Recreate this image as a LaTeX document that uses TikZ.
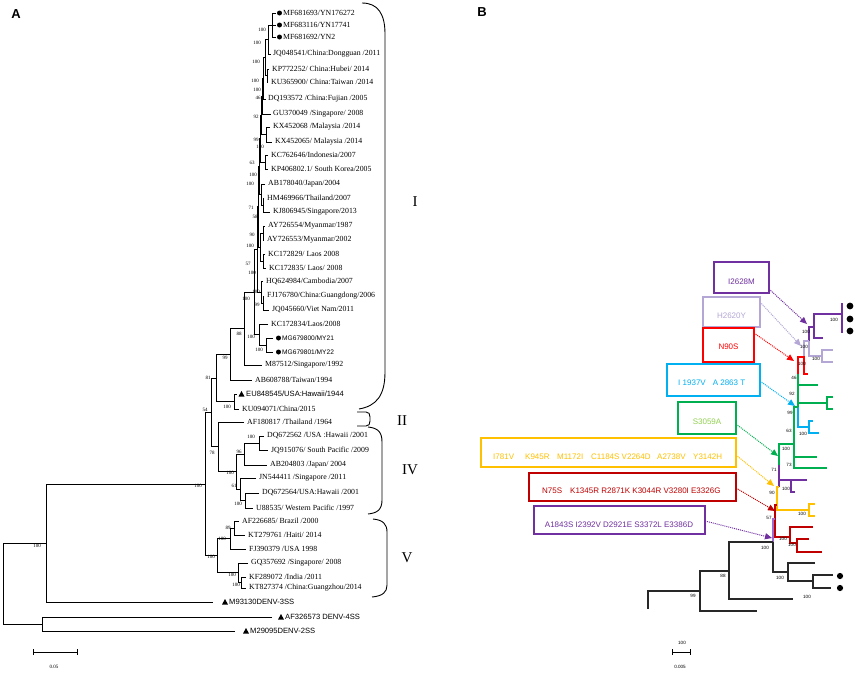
\documentclass[tikz,border=0pt]{standalone}
\usepackage{fontspec}
\setmainfont{Liberation Serif}
\setsansfont{Liberation Sans}
\usetikzlibrary{arrows.meta}
\definecolor{cP}{RGB}{112,48,160}
\definecolor{cL}{RGB}{180,167,214}
\definecolor{cR}{RGB}{255,0,0}
\definecolor{cB}{RGB}{0,176,240}
\definecolor{cG}{RGB}{0,176,80}
\definecolor{cGt}{RGB}{146,208,80}
\definecolor{cY}{RGB}{255,192,0}
\definecolor{cDR}{RGB}{192,0,0}
\definecolor{cM}{RGB}{155,110,210}
\definecolor{cK}{RGB}{40,40,40}
\newcounter{bsc}
\newcommand{\trnode}[5]{\draw[br] (#2,#3) -- (#1,#3) -- (#1,#5) -- (#4,#5);}
\newcommand{\leaflab}[4]{\node[lf,anchor=west] (#1) at (#2,#3) {#4};}
\newcommand{\leafsans}[4]{\node[lfs,anchor=west] (#1) at (#2,#3) {#4};}
\newcommand{\bsA}[3]{\stepcounter{bsc}\node[bsf] (bs\thebsc) at (#1,#2) {#3};}
\newcommand{\bsB}[3]{\stepcounter{bsc}\node[bsr] (bs\thebsc) at (#1,#2) {#3};}
\newcommand{\tridot}[2]{\fill (#1-3,#2+2.5) -- (#1+3,#2+2.5) -- (#1,#2-3) -- cycle;}
\tikzset{
 br/.style={line width=0.7pt, black},
 lf/.style={font=\fontsize{7.8}{9}\selectfont, inner sep=0pt},
 lfs/.style={font=\sffamily\fontsize{7.6}{9}\selectfont, inner sep=0pt},
 lfm/.style={font=\sffamily\fontsize{6.6}{8}\selectfont, inner sep=0pt},
 bsf/.style={font=\fontsize{5}{5}\selectfont, inner sep=0pt},
 bsr/.style={font=\sffamily\fontsize{4.6}{5}\selectfont, inner sep=0pt},
 mbox/.style={draw, line width=1.2pt, inner sep=0pt},
 mtxt/.style={font=\sffamily\fontsize{8}{9}\selectfont, inner sep=0pt},
 tr/.style={line width=1.2pt},
 arr/.style={densely dotted, line width=1pt, -{Triangle[length=7pt,width=6pt]}},
 roman/.style={font=\fontsize{15}{15}\selectfont, inner sep=0pt},
 panel/.style={font=\sffamily\bfseries\fontsize{13}{13}\selectfont, inner sep=0pt},
 brace/.style={line width=0.9pt, black},
}
\begin{document}
\begin{tikzpicture}[x=1pt,y=-1pt]
\fill[white] (0,0) rectangle (856,672);
\useasboundingbox (0,0) rectangle (856,672);
\node[panel] (pA) at (16,14) {A};
\node[panel] (pB) at (482,12) {B};
% ---------------- left tree ----------------
\draw[br] (276,13) -- (272,13) -- (272,37) -- (276,37);
\draw[br] (272,25) -- (276,25);
\trnode{268}{272}{25}{271}{54}
\trnode{267}{269}{69}{268}{82}
\trnode{265}{268}{39.5}{267}{75.5}
\trnode{263}{265}{57.5}{266}{99}
\trnode{262}{263}{78.25}{271}{114}
\trnode{266}{270}{127}{272}{142}
\trnode{261}{262}{96.1}{266}{134.5}
\trnode{265}{268}{155}{268}{169}
\trnode{260}{261}{115.3}{265}{162}
\trnode{263}{264}{198}{270}{212}
\trnode{261}{265}{184}{263}{205}
\trnode{259}{260}{138.7}{261}{194.5}
\trnode{263}{265}{226}{264}{240}
\trnode{263}{265}{254}{266}{268}
\trnode{260}{263}{233}{263}{261}
\trnode{258}{259}{166.6}{260}{247}
\trnode{263}{264}{296}{269}{310}
\trnode{261}{263}{281}{263}{303}
\trnode{257}{258}{206.8}{261}{292}
\trnode{266}{273}{338}{273}{352}
\trnode{259}{268}{324}{266}{345}
\trnode{254}{257}{249.4}{259}{334.5}
\trnode{244}{254}{292}{262}{365}
\trnode{230}{244}{328.5}{252}{380}
\trnode{234}{237}{394}{239}{409}
\trnode{216}{230}{354.25}{234}{401.5}
\trnode{259}{264}{436}{268}{450}
\trnode{244}{259}{443}{267}{465}
\trnode{245}{259}{493}{253}{508}
\trnode{240}{256}{478}{245}{500.5}
\trnode{236}{244}{454}{240}{489.25}
\trnode{218}{244}{422}{236}{471.6}
\trnode{211}{216}{377.9}{218}{446.8}
\trnode{234}{239}{521}{245}{535}
\trnode{230}{234}{528}{246}{549}
\trnode{241}{246}{577}{246}{588}
\trnode{238}{248}{563}{241}{582.5}
\trnode{217}{230}{538.5}{238}{572.75}
\trnode{205}{211}{412.3}{217}{555.6}
\trnode{46}{205}{484}{213}{602}
\trnode{42}{272}{617}{235}{631}
\trnode{3}{46}{543}{42}{624}
% markers
\fill (279.5,13) circle[radius=2.5pt];
\fill (279.5,25) circle[radius=2.5pt];
\fill (279.5,37) circle[radius=2.5pt];
\fill (278.5,338) circle[radius=2.5pt];
\fill (278.5,352) circle[radius=2.5pt];
\tridot{241.5}{394}
\tridot{225}{602}
\tridot{281}{617}
\tridot{246}{631}
% leaf labels
\leaflab{l1}{283}{13}{MF681693/YN176272}
\leaflab{l2}{283}{25}{MF683116/YN17741}
\leaflab{l3}{283}{37}{MF681692/YN2}
\leaflab{l4}{273}{54}{JQ048541/China:Dongguan /2011}
\leaflab{l5}{272}{69}{KP772252/ China:Hubei/ 2014}
\leaflab{l6}{271}{82}{KU365900/ China:Taiwan /2014}
\leaflab{l7}{268}{99}{DQ193572 /China:Fujian /2005}
\leaflab{l8}{273}{114}{GU370049 /Singapore/ 2008}
\leaflab{l9}{273}{127}{KX452068 /Malaysia /2014}
\leaflab{l10}{275}{142}{KX452065/ Malaysia /2014}
\leaflab{l11}{271}{155}{KC762646/Indonesia/2007}
\leaflab{l12}{271}{169}{KP406802.1/ South Korea/2005}
\leaflab{l13}{268}{184}{AB178040/Japan/2004}
\leaflab{l14}{267}{198}{HM469966/Thailand/2007}
\leaflab{l15}{273}{212}{KJ806945/Singapore/2013}
\leaflab{l16}{268}{226}{AY726554/Myanmar/1987}
\leaflab{l17}{267}{240}{AY726553/Myanmar/2002}
\leaflab{l18}{268}{254}{KC172829/ Laos 2008}
\leaflab{l19}{269}{268}{KC172835/ Laos/ 2008}
\leaflab{l20}{266}{281}{HQ624984/Cambodia/2007}
\leaflab{l21}{267}{296}{FJ176780/China:Guangdong/2006}
\leaflab{l22}{272}{310}{JQ045660/Viet Nam/2011}
\leaflab{l23}{271}{324}{KC172834/Laos/2008}
\node[lfm,anchor=west] (l24) at (282,338) {MG679800/MY21};
\node[lfm,anchor=west] (l25) at (282,352) {MG679801/MY22};
\leaflab{l26}{265}{365}{M87512/Singapore/1992}
\leaflab{l27}{255}{380}{AB608788/Taiwan/1994}
\leafsans{l28}{246}{394}{EU848545/USA:Hawaii/1944}
\leaflab{l29}{242}{409}{KU094071/China/2015}
\leaflab{l30}{247}{422}{AF180817 /Thailand /1964}
\leaflab{l31}{267}{436}{DQ672562 /USA :Hawaii /2001}
\leaflab{l32}{271}{450}{JQ915076/ South Pacific /2009}
\leaflab{l33}{270}{465}{AB204803 /Japan/ 2004}
\leaflab{l34}{259}{478}{JN544411 /Singapore /2011}
\leaflab{l35}{262}{493}{DQ672564/USA:Hawaii /2001}
\leaflab{l36}{256}{508}{U88535/ Western Pacific /1997}
\leaflab{l37}{242}{521}{AF226685/ Brazil /2000}
\leaflab{l38}{248}{535}{KT279761 /Haiti/ 2014}
\leaflab{l39}{249}{549}{FJ390379 /USA 1998}
\leaflab{l40}{251}{563}{GQ357692 /Singapore/ 2008}
\leaflab{l41}{249}{577}{KF289072 /India /2011}
\leaflab{l42}{249}{588}{KT827374 /China:Guangzhou/2014}
\leafsans{l43}{229}{602}{M93130DENV-3SS}
\leafsans{l44}{285}{617}{AF326573 DENV-4SS}
\leafsans{l45}{250}{631}{M29095DENV-2SS}
% bootstrap labels left
\bsA{262}{30}{100}
\bsA{257}{43}{100}
\bsA{256}{62}{100}
\bsA{255}{81}{100}
\bsA{257}{90}{100}
\bsA{258}{98}{46}
\bsA{256}{117}{92}
\bsA{256}{140}{99}
\bsA{260}{147}{100}
\bsA{252}{163}{63}
\bsA{253}{175}{100}
\bsA{250}{184}{100}
\bsA{251}{208}{71}
\bsA{255}{217}{58}
\bsA{252}{235}{90}
\bsA{250}{246}{100}
\bsA{248}{264}{57}
\bsA{252}{273}{100}
\bsA{256}{292}{100}
\bsA{246}{299}{100}
\bsA{257}{305}{99}
\bsA{251}{337}{100}
\bsA{259}{350}{100}
\bsA{239}{334}{88}
\bsA{225}{358}{99}
\bsA{208}{378}{81}
\bsA{227}{407}{100}
\bsA{205}{410}{54}
\bsA{251}{437}{100}
\bsA{239}{452}{96}
\bsA{212}{453}{78}
\bsA{230}{473}{100}
\bsA{234}{486}{61}
\bsA{198}{486}{100}
\bsA{238}{504}{100}
\bsA{228}{528}{89}
\bsA{222}{539}{100}
\bsA{211}{557}{100}
\bsA{232}{575}{100}
\bsA{236}{585}{100}
\bsA{37}{546}{100}
% braces
\draw[brace] (362,3) .. controls (378,3) and (385,14) .. (385,34) -- (385,372) .. controls (385,396) and (376,406) .. (359,409);
\draw[brace] (357,412) -- (366,412) .. controls (369,412) and (370,414) .. (370,417) -- (370,421) .. controls (370,424) and (369,426) .. (366,426) -- (357,426);
\draw[brace] (368,427) .. controls (378,428) and (382,432) .. (382,442) -- (382,500) .. controls (382,510) and (377,513) .. (368,514);
\draw[brace] (373,519) .. controls (383,520) and (387,524) .. (387,532) -- (387,585) .. controls (387,592) and (383,596) .. (372,597);
\node[roman] (gI) at (415,202) {I};
\node[roman] (gII) at (402,421) {II};
\node[roman] (gIV) at (410,470) {IV};
\node[roman] (gV) at (407,558) {V};
% scale A
\draw[br] (33,652) -- (77,652);
\draw[br] (33,649) -- (33,655);
\draw[br] (77,649) -- (77,655);
\node[bsf] (sA) at (54,667) {0.05};
% ---------------- right tree ----------------
\draw[tr,cP] (842,303) -- (842,333);
\draw[tr,cP] (842,314) -- (814,314) -- (814,338) -- (823,338);
\draw[tr,cP] (814,327) -- (809,327) -- (809,341);
\draw[tr,cL] (809,341) -- (809,356) -- (822,356);
\draw[tr,cL] (833,350) -- (822,350) -- (822,362) -- (833,362);
\draw[tr,cL] (809,341) -- (804,341) -- (804,357);
\draw[tr,cR] (798,374) -- (798,357) -- (804,357) -- (804,374) -- (808,374);
\draw[tr,cG] (798,374) -- (798,407);
\draw[tr,cG] (798,385) -- (818,385);
\draw[tr,cG] (798,403) -- (827,403);
\draw[tr,cG] (833,397) -- (827,397) -- (827,409) -- (833,409);
\draw[tr,cB] (798,407) -- (798,427) -- (809,427);
\draw[tr,cB] (813,421) -- (809,421) -- (809,433) -- (819,433);
\draw[tr,cG] (798,407) -- (794,407) -- (794,468) -- (827,468);
\draw[tr,cG] (794,457) -- (817,457);
\draw[tr,cG] (794,444) -- (779,444) -- (779,465);
\draw[tr,cP] (779,465) -- (779,487);
\draw[tr,cP] (779,480) -- (807,480);
\draw[tr,cP] (791,480) -- (791,492) -- (795,492);
\draw[tr,cY] (779,487) -- (777,487) -- (777,510) -- (809,510);
\draw[tr,cY] (815,504) -- (809,504) -- (809,516) -- (815,516);
\draw[tr,cDR] (777,505) -- (775,505) -- (775,537) -- (790,537);
\draw[tr,cDR] (813,527) -- (790,527) -- (790,543) -- (797,543);
\draw[tr,cDR] (809,539) -- (797,539) -- (797,552) -- (822,552);
\draw[tr,cM] (775,519) -- (773,519) -- (773,542);
\draw[tr,cK] (773,542) -- (773,572) -- (788,572);
\draw[tr,cK] (815,563) -- (788,563) -- (788,581) -- (813,581);
\draw[tr,cK] (833,575) -- (813,575) -- (813,588) -- (831,588);
\draw[tr,cK] (773,542) -- (729,542) -- (729,599) -- (793,599);
\draw[tr,cK] (729,571) -- (700,571) -- (700,611) -- (757,611);
\draw[tr,cK] (700,591) -- (648,591) -- (648,609);
\fill (850,306) circle[radius=3.4pt];
\fill (850,319) circle[radius=3.4pt];
\fill (850,331) circle[radius=3.4pt];
\fill (840,576) circle[radius=3.1pt];
\fill (840,588) circle[radius=3.1pt];
% bootstrap labels right
\bsB{834}{320}{100}
\bsB{806}{332}{100}
\bsB{804}{347}{100}
\bsB{816}{359}{100}
\bsB{802}{364}{100}
\bsB{794}{378}{46}
\bsB{792}{394}{92}
\bsB{790}{413}{99}
\bsB{789}{431}{63}
\bsB{803}{434}{100}
\bsB{786}{449}{100}
\bsB{789}{465}{73}
\bsB{774}{470}{71}
\bsB{786}{489}{100}
\bsB{772}{493}{90}
\bsB{802}{514}{100}
\bsB{769}{518}{57}
\bsB{783}{539}{100}
\bsB{792}{545}{100}
\bsB{765}{548}{100}
\bsB{780}{578}{100}
\bsB{723}{576}{88}
\bsB{807}{597}{100}
\bsB{693}{596}{99}
% scale B
\draw[line width=0.9pt] (672,652) -- (690,652);
\draw[line width=0.9pt] (672,649) -- (672,655);
\draw[line width=0.9pt] (690,649) -- (690,655);
\node[bsr] (sB1) at (682,643) {100};
\node[bsr] (sB2) at (680,667) {0.005};
% mutation boxes
\node[mbox, draw=cP, minimum width=55pt, minimum height=31pt] (b1) at (741.5,277.5) {};
\node[mbox, draw=cL, minimum width=57pt, minimum height=30pt] (b2) at (731.5,312) {};
\node[mbox, draw=cR, minimum width=51pt, minimum height=34pt] (b3) at (728.5,345) {};
\node[mbox, draw=cB, minimum width=93pt, minimum height=32pt] (b4) at (713.5,380) {};
\node[mbox, draw=cG, minimum width=58pt, minimum height=32pt] (b5) at (707,418) {};
\node[mbox, draw=cY, minimum width=255pt, minimum height=29pt] (b6) at (608.5,452.5) {};
\node[mbox, draw=cDR, minimum width=207pt, minimum height=28pt] (b7) at (632.5,487) {};
\node[mbox, draw=cP, minimum width=171pt, minimum height=28pt] (b8) at (619.5,520) {};
\node[mtxt, text=cP] (t1) at (741.5,282) {I2628M};
\node[mtxt, text=cL] (t2) at (731.5,316) {H2620Y};
\node[mtxt, text=cR] (t3) at (728.5,347) {N90S};
\node[mtxt, text=cB] (t4a) at (692,383) {I 1937V};
\node[mtxt, text=cB] (t4b) at (729,383) {A 2863 T};
\node[mtxt, text=cGt] (t5) at (707,422) {S3059A};
\node[mtxt, text=cY, anchor=west] (t6a) at (493,457) {I781V};
\node[mtxt, text=cY, anchor=west] (t6b) at (525,457) {K945R};
\node[mtxt, text=cY, anchor=west] (t6c) at (557,457) {M1172I};
\node[mtxt, text=cY, anchor=west] (t6d) at (591,457) {C1184S V2264D};
\node[mtxt, text=cY, anchor=west] (t6e) at (657,457) {A2738V};
\node[mtxt, text=cY, anchor=west] (t6f) at (693,457) {Y3142H};
\node[mtxt, text=cDR, anchor=west] (t7a) at (542,491) {N75S};
\node[mtxt, text=cDR, anchor=west] (t7b) at (570,491) {K1345R R2871K K3044R V3280I E3326G};
\node[mtxt, text=cP] (t8) at (619,525) {A1843S I2392V D2921E S3372L E3386D};
% arrows
\coordinate (a1s) at (769,289); \coordinate (a1e) at (807,324);
\coordinate (a2s) at (760,302); \coordinate (a2e) at (801,346);
\coordinate (a3s) at (754,333); \coordinate (a3e) at (794,361);
\coordinate (a4s) at (760,381); \coordinate (a4e) at (795,406);
\coordinate (a5s) at (736,424); \coordinate (a5e) at (778,456);
\coordinate (a6s) at (736,455); \coordinate (a6e) at (774,486);
\coordinate (a7s) at (736,488); \coordinate (a7e) at (775,511);
\coordinate (a8s) at (705,521); \coordinate (a8e) at (772,538);
\draw[arr, cP] (a1s) -- (a1e);
\draw[arr, cL] (a2s) -- (a2e);
\draw[arr, cR] (a3s) -- (a3e);
\draw[arr, cB] (a4s) -- (a4e);
\draw[arr, cG] (a5s) -- (a5e);
\draw[arr, cY] (a6s) -- (a6e);
\draw[arr, cDR] (a7s) -- (a7e);
\draw[arr, cP] (a8s) -- (a8e);
\end{tikzpicture}
\end{document}
